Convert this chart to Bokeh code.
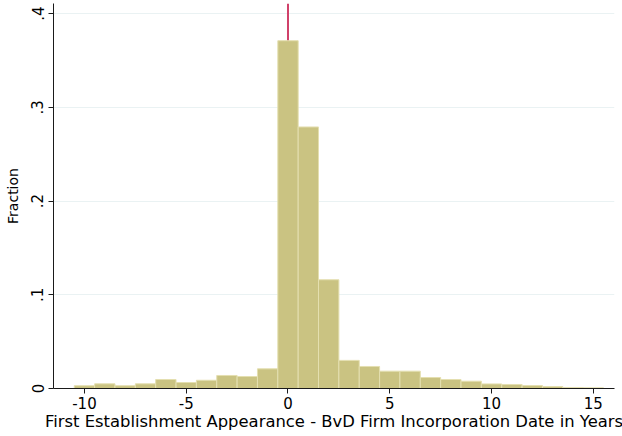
from bokeh.plotting import figure
from bokeh.models import FixedTicker, Range1d, ColumnDataSource
from bokeh.embed import file_html
from bokeh.resources import INLINE

years = list(range(-10, 16))
fractions = [0.003, 0.005, 0.003, 0.005, 0.0096, 0.0064, 0.0088, 0.0139, 0.0128, 0.021,
             0.371, 0.279, 0.116, 0.030, 0.0235, 0.0185, 0.0185, 0.0117, 0.0096, 0.0078,
             0.0049, 0.0043, 0.0032, 0.0021, 0.0011, 0.0007]
x_ticks = [-10, -5, 0, 5, 10, 15]
x_tick_labels = ["-10", "-5", "0", "5", "10", "15"]
y_ticks = [0, 0.1, 0.2, 0.3, 0.4]
y_tick_labels = ["0", ".1", ".2", ".3", ".4"]
ref_x = 0

src = ColumnDataSource(dict(
    left=[y - 0.5 for y in years],
    right=[y + 0.5 for y in years],
    top=fractions,
    bottom=[0] * len(years),
))

y_top = 0.4107
p = figure(width=622, height=436, output_backend="svg", toolbar_location=None,
           x_range=Range1d(-11.52, 16.04), y_range=Range1d(0, y_top),
           min_border_left=53, min_border_right=8, min_border_top=3, min_border_bottom=48)
p.outline_line_color = None
p.background_fill_color = "white"

p.segment(x0=[ref_x], y0=[0], x1=[ref_x], y1=[y_top], line_color="#D0416A", line_width=2)
p.quad(left="left", right="right", top="top", bottom="bottom", source=src,
       fill_color="#CAC382", line_color="#E4DFB0", line_width=1)

p.xgrid.visible = False
p.ygrid.grid_line_color = "#EAF2F3"
p.ygrid.grid_line_width = 1.2
p.ygrid.ticker = FixedTicker(ticks=y_ticks)

p.xaxis.ticker = FixedTicker(ticks=x_ticks)
p.xaxis.major_label_overrides = {t: l for t, l in zip(x_ticks, x_tick_labels)}
p.yaxis.ticker = FixedTicker(ticks=y_ticks)
p.yaxis.major_label_overrides = {t: l for t, l in zip(y_ticks, y_tick_labels)}
p.yaxis.major_label_orientation = "vertical"

for ax in (p.xaxis[0], p.yaxis[0]):
    ax.axis_line_color = "#1a1a1a"
    ax.major_tick_line_color = "#1a1a1a"
    ax.major_tick_out = 5
    ax.major_tick_in = 0
    ax.minor_tick_line_color = None
    ax.major_label_text_font = "DejaVu Sans"
    ax.major_label_text_font_size = "15px"
    ax.major_label_text_color = "#000000"
    ax.axis_label_text_font = "DejaVu Sans"
    ax.axis_label_text_font_style = "normal"
    ax.axis_label_text_color = "#000000"
    ax.major_label_standoff = 3

p.yaxis.major_label_standoff = 5
p.xaxis.axis_label_standoff = 0
p.yaxis.axis_label_standoff = 8
p.xaxis.axis_label_text_font_size = "16.4px"
p.yaxis.axis_label_text_font_size = "14px"
p.xaxis.axis_label = "First Establishment Appearance - BvD Firm Incorporation Date in Years"
p.yaxis.axis_label = "Fraction"

open("out.html", "w").write(file_html(p, INLINE))
